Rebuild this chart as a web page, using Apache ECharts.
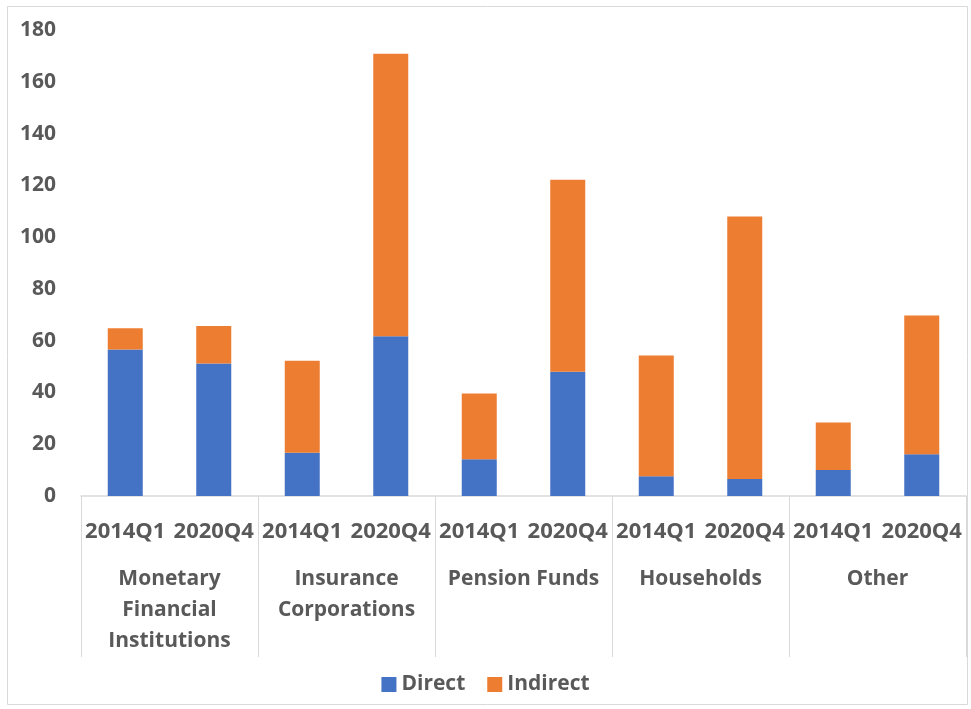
<!DOCTYPE html>
<html>
<head>
<meta charset="utf-8">
<script src="https://cdn.jsdelivr.net/npm/echarts@6/dist/echarts.min.js"></script>
<style>
  html, body { margin: 0; padding: 0; background: #fff; }
  #main { width: 971px; height: 709px; }
</style>
</head>
<body>
<div id="main"></div>
<script>
// data
const quarters = ['2014Q1', '2020Q4', '2014Q1', '2020Q4', '2014Q1', '2020Q4', '2014Q1', '2020Q4', '2014Q1', '2020Q4'];
const groups = ['Monetary\nFinancial\nInstitutions', 'Insurance\nCorporations', 'Pension Funds', 'Households', 'Other'];
const direct = [56.6, 51.2, 16.7, 61.7, 14.2, 48.0, 7.6, 6.6, 10.0, 16.1];
const indirect = [8.2, 14.5, 35.5, 109.1, 25.4, 74.2, 46.7, 101.4, 18.4, 53.6];

const textColor = '#595959';
const font = '"Open Sans", sans-serif';

const chartDom = document.getElementById('main');
const myChart = echarts.init(chartDom, null, { renderer: 'canvas' });

let option = {
    animation: false,
    color: ['#4472C4', '#ED7D31'],
    textStyle: { fontFamily: font },
    graphic: [
        {
            type: 'rect',
            shape: { x: 7.5, y: 6.5, width: 960, height: 698 },
            style: { fill: 'none', stroke: '#d9d9d9', lineWidth: 1 },
            silent: true,
            z: -1
        }
    ],
    grid: {
        left: 81,
        right: 5,
        top: 30,
        bottom: 213,
        containLabel: false
    },
    legend: {
        bottom: 9,
        left: 'center',
        itemWidth: 15,
        itemHeight: 15,
        itemGap: 22,
        icon: 'rect',
        textStyle: { color: textColor, fontSize: 21, fontWeight: 'bold', fontFamily: font },
        data: ['Direct', 'Indirect']
    },
    xAxis: [
        {
            type: 'category',
            data: quarters,
            axisLine: { lineStyle: { color: '#d9d9d9', width: 1.5 } },
            axisTick: { show: false },
            axisLabel: {
                interval: 0,
                margin: 23,
                color: textColor,
                fontSize: 22,
                fontWeight: 'bold',
                fontFamily: font,
                lineHeight: 26
            }
        },
        {
            type: 'category',
            data: groups,
            position: 'bottom',
            axisLine: { show: false },
            axisTick: {
                show: true,
                length: 161,
                lineStyle: { color: '#d9d9d9', width: 1 }
            },
            axisLabel: {
                interval: 0,
                margin: 68,
                color: textColor,
                fontSize: 21,
                fontWeight: 'bold',
                fontFamily: font,
                lineHeight: 31
            },
            splitLine: { show: false }
        }
    ],
    yAxis: {
        type: 'value',
        min: 0,
        max: 180,
        interval: 20,
        axisLine: { show: false },
        axisTick: { show: false },
        splitLine: { show: false },
        axisLabel: {
            margin: 25,
            color: textColor,
            fontSize: 21,
            fontWeight: 'bold',
            fontFamily: font
        }
    },
    series: [
        {
            name: 'Direct',
            type: 'bar',
            stack: 'Total',
            barWidth: 35,
            xAxisIndex: 0,
            data: direct
        },
        {
            name: 'Indirect',
            type: 'bar',
            stack: 'Total',
            barWidth: 35,
            xAxisIndex: 0,
            data: indirect
        }
    ]
};

option && myChart.setOption(option);
</script>
</body>
</html>
